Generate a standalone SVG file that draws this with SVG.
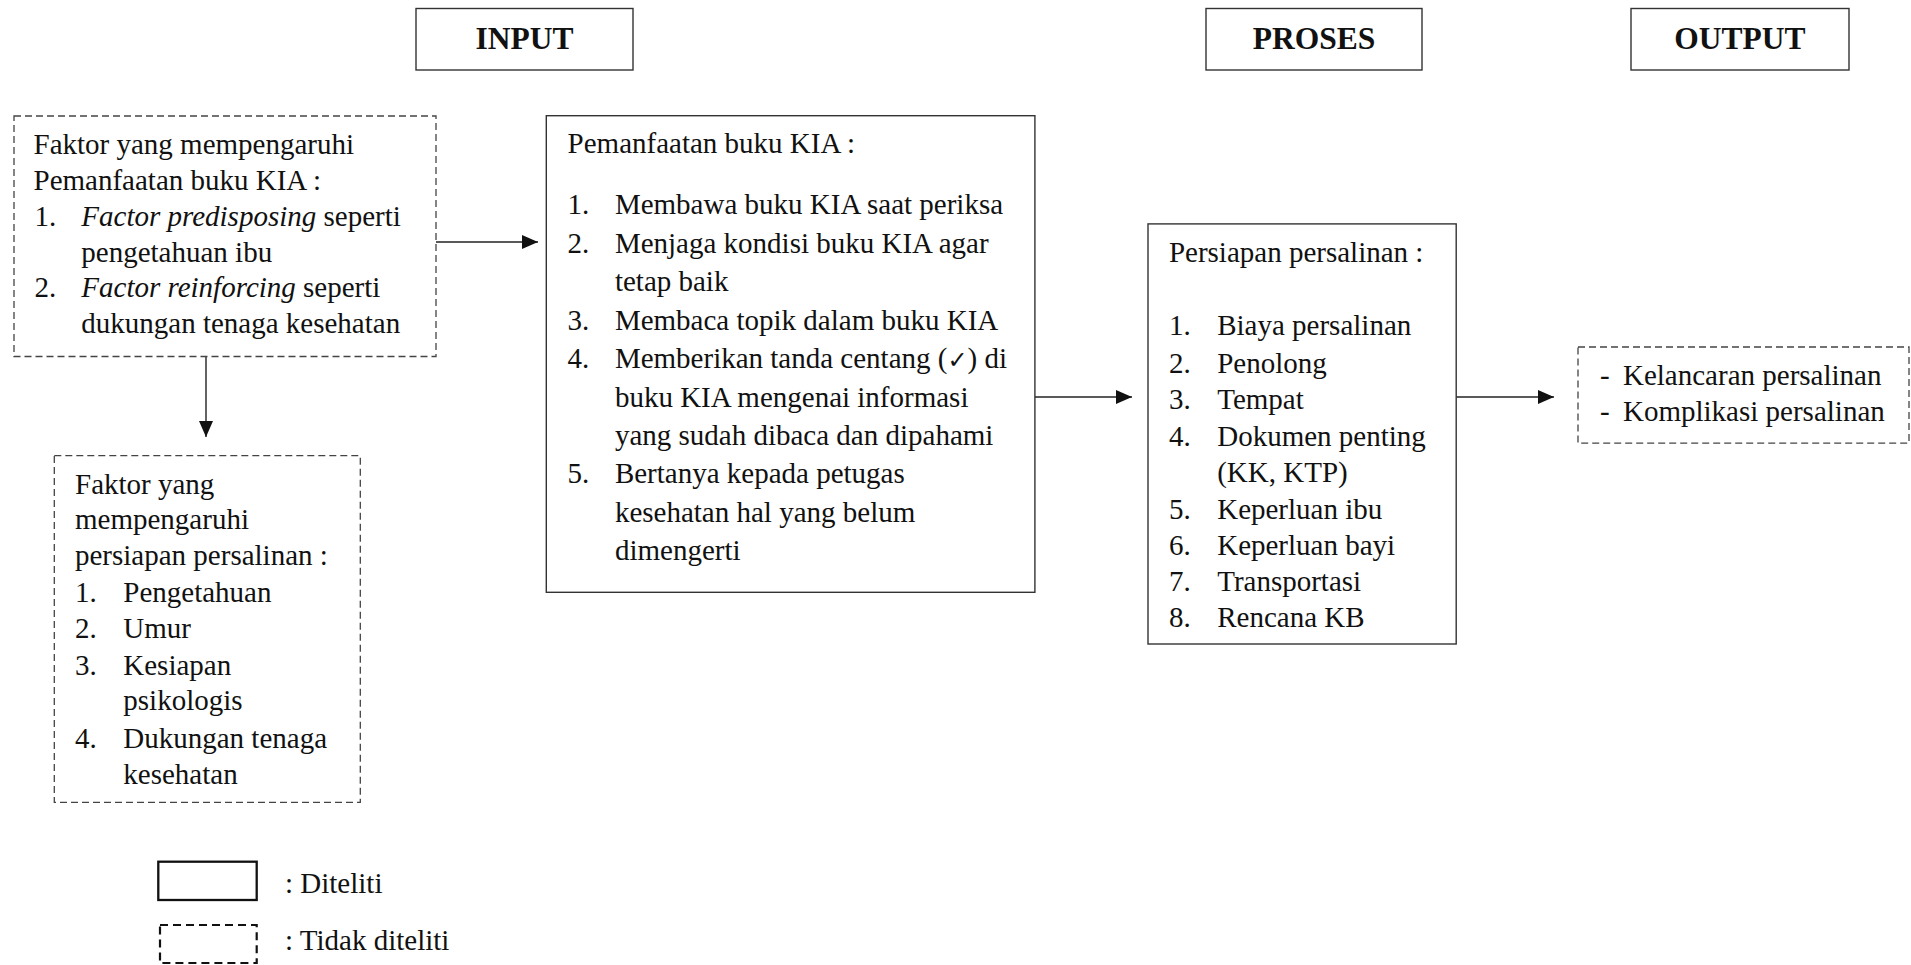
<svg xmlns="http://www.w3.org/2000/svg" width="1911" height="965" viewBox="0 0 1911 965">
<style>
text{font-family:"Liberation Serif","Times New Roman",serif;font-size:29px;fill:#111}
.t{font-weight:bold;font-size:31.5px;text-anchor:middle}
.solid{fill:#fff;stroke:#333;stroke-width:1.4}
.dash{fill:#fff;stroke:#444;stroke-width:1.3;stroke-dasharray:7 4}
.conn{stroke:#222;stroke-width:1.4;fill:none;marker-end:url(#ah)}
</style>
<defs>
<marker id="ah" markerUnits="userSpaceOnUse" markerWidth="17" markerHeight="15" refX="16" refY="7" orient="auto">
<path d="M0,0 L16,7 L0,14 Z" fill="#111"/>
</marker>
</defs>
<rect width="1911" height="965" fill="#fff"/>

<g id="title-input"><rect class="solid" x="416" y="8.5" width="217" height="61.5"/><text class="t" x="524.5" y="49">INPUT</text></g>
<g id="title-proses"><rect class="solid" x="1206" y="8.5" width="216" height="61.5"/><text class="t" x="1314" y="49">PROSES</text></g>
<g id="title-output"><rect class="solid" x="1631" y="8.5" width="218" height="61.5"/><text class="t" x="1740" y="49">OUTPUT</text></g>

<g id="connectors">
<line class="conn" x1="436" y1="242" x2="538" y2="242"/>
<line class="conn" x1="206" y1="357" x2="206" y2="437"/>
<line class="conn" x1="1035" y1="397" x2="1132" y2="397"/>
<line class="conn" x1="1456" y1="397" x2="1554" y2="397"/>
</g>

<g id="faktor-kia">
<rect class="dash" x="14" y="116" width="422" height="240.5"/>
<text x="33.5" y="153.5">Faktor yang mempengaruhi</text>
<text x="33.5" y="190">Pemanfaatan buku KIA :</text>
<text x="34.5" y="226">1.</text><text x="81.3" y="226"><tspan font-style="italic">Factor predisposing</tspan> seperti</text>
<text x="81.3" y="261.5">pengetahuan ibu</text>
<text x="34.5" y="297">2.</text><text x="81.3" y="297"><tspan font-style="italic">Factor reinforcing</tspan> seperti</text>
<text x="81.3" y="333">dukungan tenaga kesehatan</text>
</g>

<g id="faktor-persiapan">
<rect class="dash" x="54.3" y="455.7" width="306" height="346.7"/>
<text x="75" y="493.8">Faktor yang</text>
<text x="75" y="529.3">mempengaruhi</text>
<text x="75" y="565.4">persiapan persalinan :</text>
<text x="75" y="602">1.</text><text x="123.3" y="602">Pengetahuan</text>
<text x="75" y="638.2">2.</text><text x="123.3" y="638.2">Umur</text>
<text x="75" y="674.8">3.</text><text x="123.3" y="674.8">Kesiapan</text>
<text x="123.3" y="710.2">psikologis</text>
<text x="75" y="747.5">4.</text><text x="123.3" y="747.5">Dukungan tenaga</text>
<text x="123.3" y="783.7">kesehatan</text>
</g>

<g id="pemanfaatan">
<rect class="solid" x="546.3" y="115.7" width="488.6" height="476.6"/>
<text x="567.6" y="153.3">Pemanfaatan buku KIA :</text>
<text x="567.6" y="214.3">1.</text><text x="614.9" y="214.3">Membawa buku KIA saat periksa</text>
<text x="567.6" y="252.7">2.</text><text x="614.9" y="252.7">Menjaga kondisi buku KIA agar</text>
<text x="614.9" y="290.7">tetap baik</text>
<text x="567.6" y="330">3.</text><text x="614.9" y="330">Membaca topik dalam buku KIA</text>
<text x="567.6" y="368.3">4.</text><text x="614.9" y="368.3">Memberikan tanda centang (<tspan font-family="DejaVu Sans, sans-serif" font-size="24">✓</tspan>) di</text>
<text x="614.9" y="406.7">buku KIA mengenai informasi</text>
<text x="614.9" y="445">yang sudah dibaca dan dipahami</text>
<text x="567.6" y="483.3">5.</text><text x="614.9" y="483.3">Bertanya kepada petugas</text>
<text x="614.9" y="521.7">kesehatan hal yang belum</text>
<text x="614.9" y="560">dimengerti</text>
</g>

<g id="persiapan">
<rect class="solid" x="1148" y="223.9" width="308.2" height="420.1"/>
<text x="1168.9" y="261.8">Persiapan persalinan :</text>
<text x="1168.9" y="335.4">1.</text><text x="1217.2" y="335.4">Biaya persalinan</text>
<text x="1168.9" y="373.3">2.</text><text x="1217.2" y="373.3">Penolong</text>
<text x="1168.9" y="409.1">3.</text><text x="1217.2" y="409.1">Tempat</text>
<text x="1168.9" y="446.1">4.</text><text x="1217.2" y="446.1">Dokumen penting</text>
<text x="1217.2" y="481.9">(KK, KTP)</text>
<text x="1168.9" y="518.5">5.</text><text x="1217.2" y="518.5">Keperluan ibu</text>
<text x="1168.9" y="554.7">6.</text><text x="1217.2" y="554.7">Keperluan bayi</text>
<text x="1168.9" y="591.3">7.</text><text x="1217.2" y="591.3">Transportasi</text>
<text x="1168.9" y="627.1">8.</text><text x="1217.2" y="627.1">Rencana KB</text>
</g>

<g id="output">
<rect class="dash" x="1578" y="347" width="331" height="96.2"/>
<text x="1600" y="385.1">-</text><text x="1623" y="385.1">Kelancaran persalinan</text>
<text x="1600" y="420.9">-</text><text x="1623" y="420.9">Komplikasi persalinan</text>
</g>

<g id="legend">
<rect x="158.3" y="861.7" width="98.4" height="38.3" fill="#fff" stroke="#111" stroke-width="2.3"/>
<text x="285" y="893.3">: Diteliti</text>
<rect x="160" y="925" width="96.7" height="38" fill="#fff" stroke="#111" stroke-width="2.2" stroke-dasharray="8 5"/>
<text x="285" y="950">: Tidak diteliti</text>
</g>
</svg>
